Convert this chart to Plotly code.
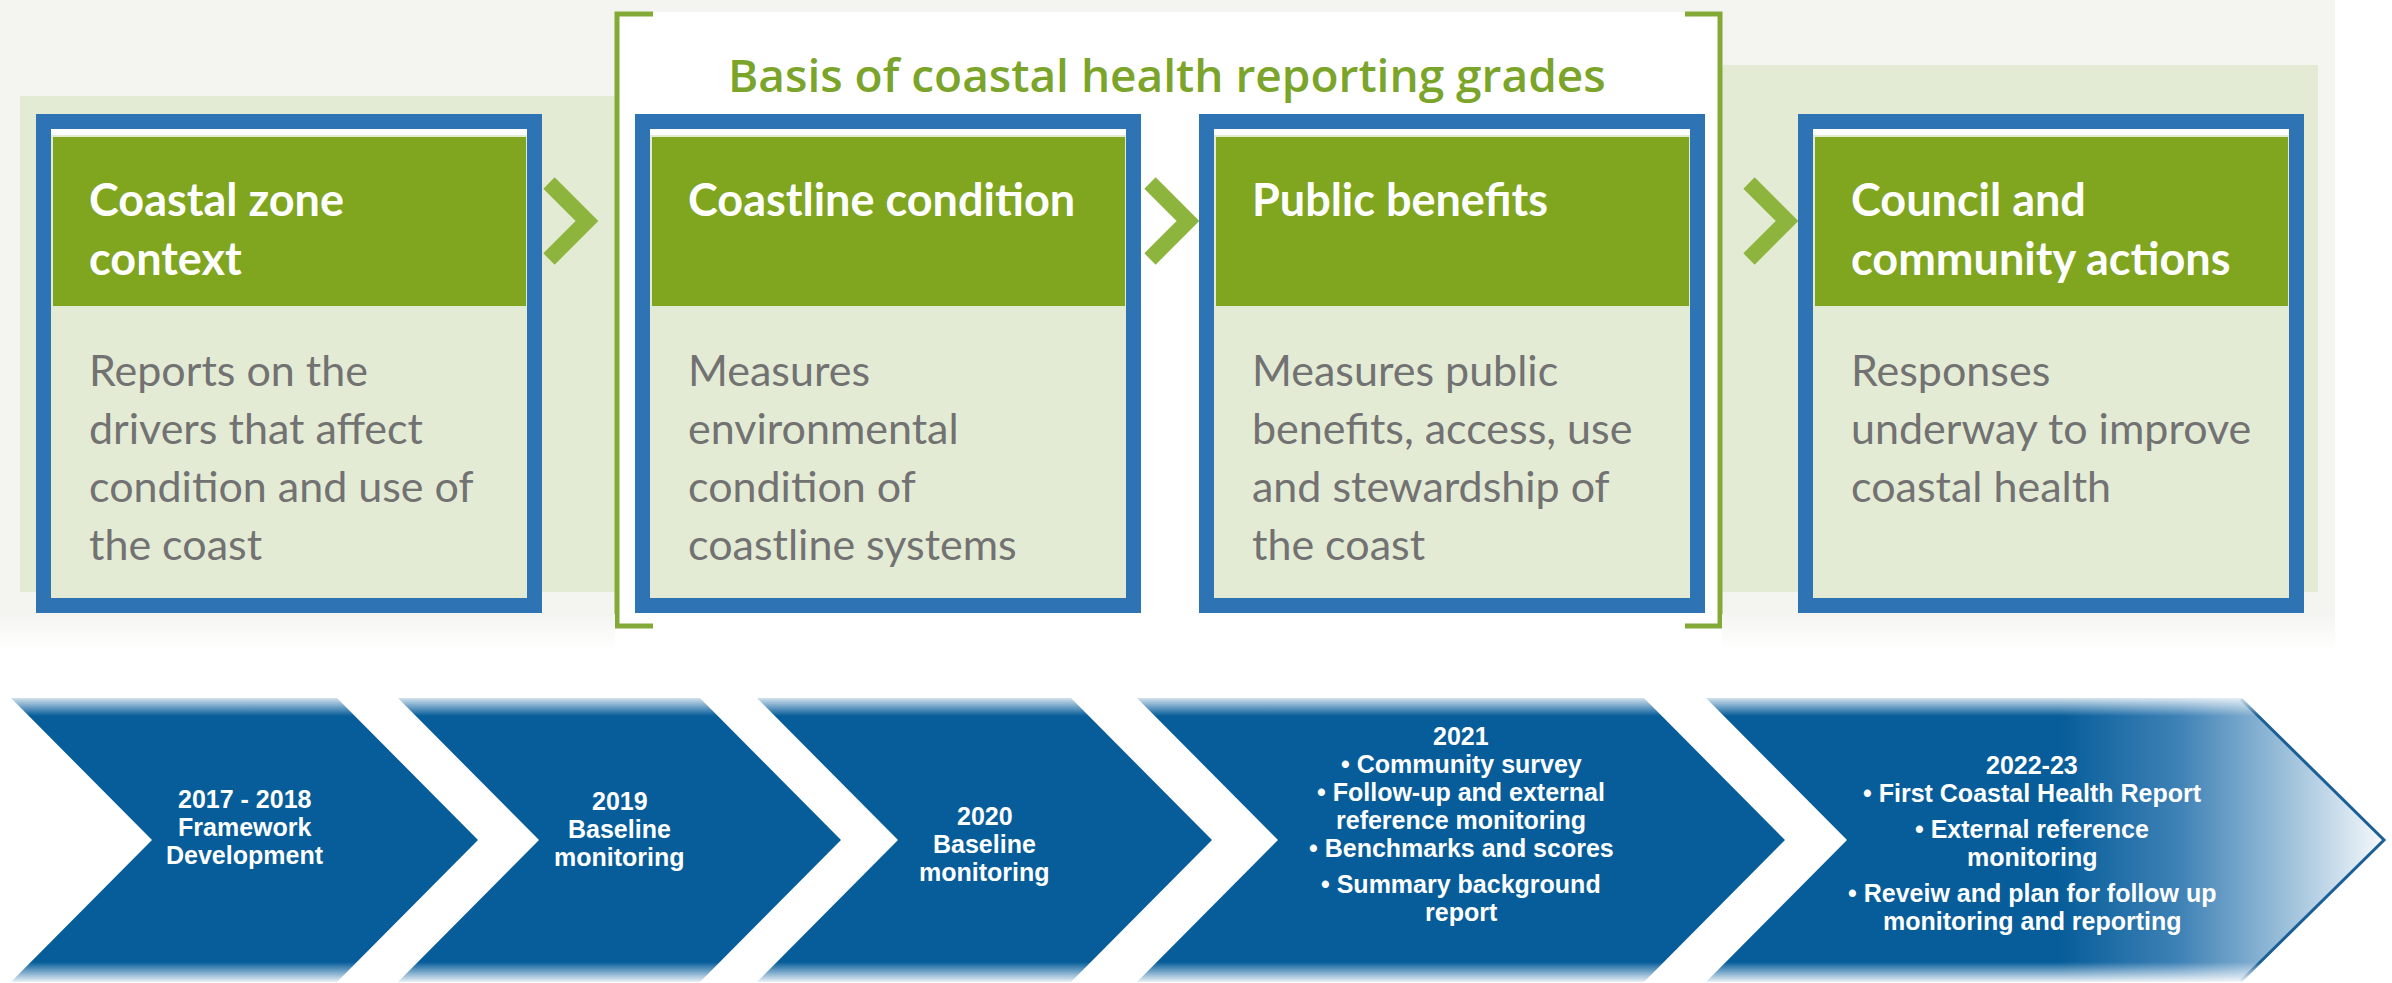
import plotly.graph_objects as go

W, H = 2392, 983

# ---------------- data ----------------
bracket_title = "Basis of coastal health reporting grades"
card_titles = [
    ["Coastal zone", "context"],
    ["Coastline condition"],
    ["Public benefits"],
    ["Council and", "community actions"],
]
card_bodies = [
    ["Reports on the", "drivers that affect", "condition and use of", "the coast"],
    ["Measures", "environmental", "condition of", "coastline systems"],
    ["Measures public", "benefits, access, use", "and stewardship of", "the coast"],
    ["Responses", "underway to improve", "coastal health"],
]
# each stage: list of paragraphs, each paragraph a list of lines
timeline_stages = [
    [["2017 - 2018", "Framework", "Development"]],
    [["2019", "Baseline", "monitoring"]],
    [["2020", "Baseline", "monitoring"]],
    [["2021", "• Community survey", "• Follow-up and external", "reference monitoring",
      "• Benchmarks and scores"], ["• Summary background", "report"]],
    [["2022-23", "• First Coastal Health Report"], ["• External reference", "monitoring"],
     ["• Reveiw and plan for follow up", "monitoring and reporting"]],
]

# ---------------- layout constants ----------------
card_x0 = [36, 635, 1199, 1798]
card_w = 506
card_y0, card_y1 = 114, 613
border = 15
header_y1 = 306
chev_x0 = [11, 398, 757, 1137, 1706]
chev_x1 = [337, 700, 1071, 1644, 2241]
chev_d = 141
chev_y0, chev_y1 = 698, 982
chev_text_cy = [826, 828, 843, 823, 842]

C_BLUE_BORDER = "#2e74b5"
C_HEADER = "#80a51f"
C_BODY = "#e4ebd5"
C_BAND = "#e4ebd5"
C_BG = "#f4f4f1"
C_ARROW = "#8db53e"
C_BRACKET = "#83a936"
C_TITLE = "#7ba42a"
C_TEXT = "#727272"
C_CHEV = "#065d9a"

fig = go.Figure()
shapes = []
ann = []


def rect(x0, y0, x1, y1, color, layer="below"):
    shapes.append(dict(type="rect", x0=x0, y0=y0, x1=x1, y1=y1, xref="x", yref="y",
                       fillcolor=color, line=dict(width=0), layer=layer))


def text(x, baseline, s, size, color, family, weight="normal", xanchor="left"):
    ann.append(dict(x=x, y=baseline - 0.34 * size, xref="x", yref="y", text=s,
                    showarrow=False, xanchor=xanchor, yanchor="middle",
                    font=dict(size=size, color=color, family=family, weight=weight)))


# background areas
rect(0, 0, 2335, 615, C_BG)
rect(20, 96, 615, 592, C_BAND)
rect(1722, 65, 2318, 592, C_BAND)
rect(615, 12, 1722, 632, "#ffffff")

# bracket
shapes.append(dict(type="path", path="M 653 14 L 617 14 L 617 626 L 653 626",
                   line=dict(color=C_BRACKET, width=5), layer="below"))
shapes.append(dict(type="path", path="M 1685 14 L 1720 14 L 1720 626 L 1685 626",
                   line=dict(color=C_BRACKET, width=5), layer="below"))
text((728 + 1606) / 2, 90, bracket_title, 46, C_TITLE, "Open Sans", 600, "center")

# green arrows between cards
for i in range(3):
    tip = card_x0[i + 1] - 11 if i > 0 else 587
    cy = 221
    shapes.append(dict(type="path",
                       path=f"M {tip-38} {cy-38} L {tip} {cy} L {tip-38} {cy+38}",
                       line=dict(color=C_ARROW, width=16), layer="below"))

# cards
for i, x0 in enumerate(card_x0):
    x1 = x0 + card_w
    rect(x0, card_y0, x1, card_y1, C_BLUE_BORDER)
    rect(x0 + border, card_y0 + border, x1 - border, card_y1 - border, "#ffffff")
    rect(x0 + border, card_y0 + border + 6, x1 - border, card_y1 - border, C_BODY)
    rect(x0 + border + 2, card_y0 + border + 8, x1 - border - 1, header_y1, C_HEADER)
    for j, line in enumerate(card_titles[i]):
        text(x0 + 51, 214 + 59 * j, line, 45, "#ffffff", "Lato", "bold")
    for j, line in enumerate(card_bodies[i]):
        text(x0 + 51, 384 + 58 * j, line, 43, C_TEXT, "Lato", "normal")

# fade of the grey background to white
for xa, xb in [(0, 615), (1722, 2335)]:
    fig.add_trace(go.Scatter(
        x=[xa, xb, xb, xa, xa], y=[614, 614, 650, 650, 614], mode="lines",
        line=dict(width=0), fill="toself", hoverinfo="skip", showlegend=False,
        fillgradient=dict(type="vertical", start=614, stop=650,
                          colorscale=[[0, C_BG], [1, "#ffffff"]])))

# timeline chevrons
ymid = (chev_y0 + chev_y1) / 2
for i in range(5):
    a, b = chev_x0[i], chev_x1[i]
    xs = [a, b, b + chev_d, b, a, a + chev_d, a]
    ys = [chev_y0, chev_y0, ymid, chev_y1, chev_y1, ymid, chev_y0]
    if i < 4:
        fig.add_trace(go.Scatter(x=xs, y=ys, mode="lines", line=dict(width=0),
                                 fill="toself", fillcolor=C_CHEV, hoverinfo="skip",
                                 showlegend=False))
    else:
        tipx = b + chev_d
        span = tipx - a
        fig.add_trace(go.Scatter(
            x=xs, y=ys, mode="lines", line=dict(width=0), fill="toself",
            hoverinfo="skip", showlegend=False,
            fillgradient=dict(type="horizontal", start=a, stop=tipx,
                              colorscale=[[0, C_CHEV], [(2060 - a) / span, C_CHEV],
                                          [(2180 - a) / span, "#3f82b6"],
                                          [(2300 - a) / span, "#a9c8df"],
                                          [1, "#f4f8fb"]])))
        fig.add_trace(go.Scatter(x=[b, tipx + 2, b], y=[chev_y0 + 1, ymid, chev_y1 - 1],
                                 mode="lines", line=dict(color="#1a5f96", width=3),
                                 hoverinfo="skip", showlegend=False))

# soft top/bottom edges of the chevrons
for ya, yb, c0, c1 in [(694, 716, "rgba(255,255,255,1)", "rgba(255,255,255,0)"),
                       (962, 984, "rgba(255,255,255,0)", "rgba(255,255,255,1)")]:
    fig.add_trace(go.Scatter(
        x=[0, W, W, 0, 0], y=[ya, ya, yb, yb, ya], mode="lines", line=dict(width=0),
        fill="toself", hoverinfo="skip", showlegend=False,
        fillgradient=dict(type="vertical", start=ya, stop=yb,
                          colorscale=[[0, c0], [1, c1]])))

# chevron labels
LS, PG, FS = 28, 8, 25
for i, paras in enumerate(timeline_stages):
    lines = []
    y = 0
    for p, para in enumerate(paras):
        if p > 0:
            y += PG
        for line in para:
            lines.append((line, y))
            y += LS
    total = lines[-1][1]
    cx = (chev_x0[i] + chev_x1[i] + chev_d) / 2 + (-12 if i == 4 else 0)
    top_base = chev_text_cy[i] - total / 2 + 0.36 * FS
    for line, off in lines:
        text(cx, top_base + off, line, FS, "#ffffff", "Liberation Sans, Arial", "bold", "center")

fig.update_layout(
    width=W, height=H, autosize=False,
    margin=dict(l=0, r=0, t=0, b=0, pad=0),
    paper_bgcolor="#ffffff", plot_bgcolor="#ffffff",
    xaxis=dict(range=[0, W], visible=False, fixedrange=True),
    yaxis=dict(range=[H, 0], visible=False, fixedrange=True),
    shapes=shapes, annotations=ann, showlegend=False,
)

fig.write_html("out.html", config=dict(displayModeBar=False),
               post_script="document.body.style.margin='0';")
